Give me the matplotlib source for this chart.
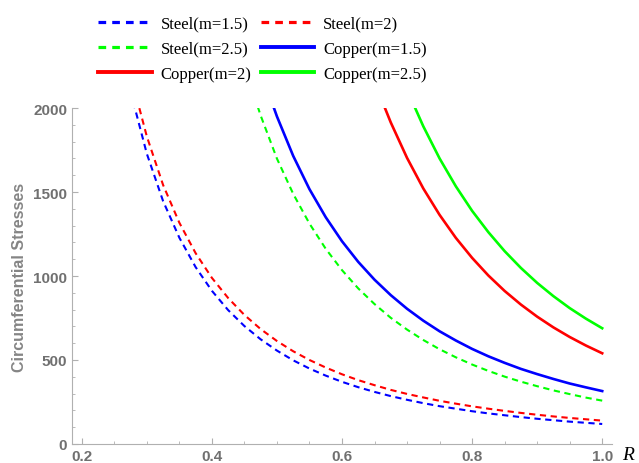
import numpy as np
import matplotlib.pyplot as plt
from matplotlib.lines import Line2D
from matplotlib.ticker import MultipleLocator

# values
r_steel15 = [0.275, 0.3, 0.325, 0.35, 0.375, 0.4, 0.425, 0.45, 0.475, 0.5, 0.525, 0.55, 0.575, 0.6,
             0.625, 0.65, 0.675, 0.7, 0.725, 0.75, 0.775, 0.8, 0.825, 0.85, 0.875, 0.9, 0.925, 0.95, 0.975, 1.0]
s_steel15 = [2098, 1728, 1446, 1228, 1053, 912, 797, 702, 623, 556, 498, 449, 407, 370,
             338, 310, 285, 263, 243, 225, 210, 195, 182, 171, 160, 150, 141.5, 133, 126, 119]

r_steel2 = [0.28, 0.3, 0.325, 0.35, 0.375, 0.4, 0.425, 0.45, 0.475, 0.5, 0.525, 0.55, 0.575, 0.6,
            0.625, 0.65, 0.675, 0.7, 0.725, 0.75, 0.775, 0.8, 0.825, 0.85, 0.875, 0.9, 0.925, 0.95, 0.975, 1.0]
s_steel2 = [2124, 1831, 1542, 1317, 1136, 989, 869, 768, 684, 613, 552, 500, 455, 415,
            380, 350, 322, 298, 277, 257, 240, 224, 210, 197, 185, 174, 164, 155, 147, 139]

r_steel25 = [0.46, 0.475, 0.5, 0.525, 0.55, 0.575, 0.6, 0.625, 0.65, 0.675, 0.7, 0.725, 0.75,
             0.775, 0.8, 0.825, 0.85, 0.875, 0.9, 0.925, 0.95, 0.975, 1.0]
s_steel25 = [2132, 1955, 1699, 1489, 1312, 1162, 1035, 926, 833, 751, 681, 619, 564,
             516, 473, 435, 401, 371, 344, 319, 297, 276, 258]

r_cu15 = [0.485, 0.5, 0.525, 0.55, 0.575, 0.6, 0.625, 0.65, 0.675, 0.7, 0.725, 0.75,
          0.775, 0.8, 0.825, 0.85, 0.875, 0.9, 0.925, 0.95, 0.975, 1.0]
s_cu15 = [2113, 1950, 1715, 1517, 1350, 1207, 1084, 978, 886, 805, 734, 671,
          616, 566, 522, 483, 447, 416, 387, 360, 337, 315]

r_cu2 = [0.66, 0.675, 0.7, 0.725, 0.75, 0.775, 0.8, 0.825, 0.85, 0.875, 0.9, 0.925, 0.95, 0.975, 1.0]
s_cu2 = [2058, 1914, 1703, 1521, 1364, 1227, 1108, 1003, 911, 830, 758, 694, 637, 586, 540]

r_cu25 = [0.705, 0.725, 0.75, 0.775, 0.8, 0.825, 0.85, 0.875, 0.9, 0.925, 0.95, 0.975, 1.0]
s_cu25 = [2065, 1891, 1700, 1534, 1388, 1261, 1148, 1048, 959, 880, 809, 746, 689]

names = ["Steel(m=1.5)", "Steel(m=2)", "Steel(m=2.5)", "Copper(m=1.5)", "Copper(m=2)", "Copper(m=2.5)"]
colors = [(0, 0, 1), (1, 0, 0), (0, 1, 0), (0, 0, 1), (1, 0, 0), (0, 1, 0)]

fig = plt.figure(figsize=(6.39, 4.64), dpi=100)
ax = fig.add_axes([0.1127, 0.041, 0.845, 0.724])

series = [(r_steel15, s_steel15), (r_steel2, s_steel2), (r_steel25, s_steel25),
          (r_cu15, s_cu15), (r_cu2, s_cu2), (r_cu25, s_cu25)]
for i, (r, s) in enumerate(series):
    if i < 3:
        ax.plot(r, s, color=colors[i], lw=1.5, dashes=(3, 2.2), solid_capstyle="butt")
    else:
        ax.plot(r, s, color=colors[i], lw=1.9)

ax.set_xlim(0.185, 1.015)
ax.set_ylim(0, 2000)

for s in ["top", "right"]:
    ax.spines[s].set_visible(False)
for s in ["left", "bottom"]:
    ax.spines[s].set_color("#b0b0b0")

ax.set_xticks([0.2, 0.4, 0.6, 0.8, 1.0])
ax.set_yticks([0, 500, 1000, 1500, 2000])
ax.xaxis.set_minor_locator(MultipleLocator(0.05))
ax.yaxis.set_minor_locator(MultipleLocator(100))
ax.tick_params(which="both", direction="in", color="#b0b0b0", labelcolor="#707070")
ax.tick_params(which="major", length=4.5)
ax.tick_params(which="minor", length=2.5)
ax.xaxis.set_major_formatter(plt.FuncFormatter(lambda v, p: f"{v:.1f}"))
for t in ax.get_xticklabels() + ax.get_yticklabels():
    t.set_fontweight("bold")
    t.set_fontsize(11)
    t.set_family("Liberation Sans")

ax.set_ylabel("Circumferential Stresses", fontsize=11.5, fontweight="bold",
              color="#858585", family="Liberation Sans")
ax.yaxis.set_label_coords(-0.083, 0.5)
ax.text(1.03, -0.03, "R", transform=ax.transAxes, fontsize=14, style="italic",
        family="Liberation Serif", ha="center", va="center")

# legend handles drawn thicker, row-wise order as in the reference
handles = []
for i in range(6):
    if i < 3:
        handles.append(Line2D([], [], color=colors[i], lw=2.3, dashes=(2.4, 1.9)))
    else:
        handles.append(Line2D([], [], color=colors[i], lw=2.8))
order = [0, 2, 4, 1, 3, 5]
fig.legend(handles=[handles[k] for k in order], labels=[names[k] for k in order], ncol=2,
           loc="upper left", bbox_to_anchor=(90 / 639, 1 - 8 / 464), frameon=False, borderpad=0,
           prop={"family": "Liberation Serif", "size": 12}, handlelength=3.2,
           columnspacing=0.55, labelspacing=0.56, handletextpad=0.55)

fig.savefig("out.png", dpi=100)
